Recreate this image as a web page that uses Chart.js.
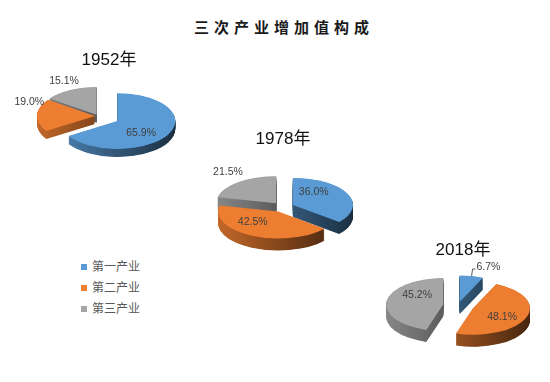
<!DOCTYPE html>
<html>
<head>
<meta charset="utf-8">
<script src="https://cdn.jsdelivr.net/npm/chart.js@4.4.1/dist/chart.umd.min.js"></script>
<style>
    html, body { margin: 0; padding: 0; background: #fff; }
    #wrap { position: relative; width: 550px; height: 382px; overflow: hidden; }
    #wrap canvas { position: absolute; left: 0; top: 0; }
    #title {
        position: absolute; left: 194px; top: 18px;
        font: bold 15px 'Noto Sans CJK SC'; line-height: 18px;
        letter-spacing: 5px; color: #1a1a1a; white-space: nowrap;
    }
    #legend { position: absolute; left: 81px; top: 257px; margin: 0; padding: 0; list-style: none; }
    #legend li { height: 21px; line-height: 21px; font: 12px 'Noto Sans CJK SC'; color: #595959; white-space: nowrap; }
    #legend span { display: inline-block; width: 6px; height: 6px; margin-right: 5px; vertical-align: 1px; }
</style>
</head>
<body>
<div id="wrap">
    <div id="title">三次产业增加值构成</div>
    <ul id="legend"></ul>
</div>
<script>
// ============= dados =============
const categories = ['第一产业', '第二产业', '第三产业']
const years = ['1952年', '1978年', '2018年']
const share1952 = [65.9, 19.0, 15.1]
const share1978 = [36.0, 42.5, 21.5]
const share2018 = [6.7, 48.1, 45.2]
const colors = ['#5B9BD5', '#ED7D31', '#A5A5A5']

// layout of each pie (center, radius, tilt, explode in px, label placement)
const pies = [
    { title: years[0], data: share1952, tx: 109, ty: 60, cx: 98, cy: 116, r: 58, tilt: 0.48, depth: 8,
      explode: [22, 3, 3], labelAngle: [136, 294, 335], labelDist: [0.59, 1.24, 1.33], leader: [false, false, false] },
    { title: years[1], data: share1978, tx: 283, ty: 139, cx: 283, cy: 207, r: 60, tilt: 0.45, depth: 12,
      explode: [11, 11, 11], labelAngle: [36, 227, 325], labelDist: [0.59, 0.58, 1.4], leader: [false, false, false] },
    { title: years[2], data: share2018, tx: 463, ty: 250, cx: 458, cy: 305.6, r: 57, tilt: 0.466, depth: 12,
      explode: [8, 16, 15], labelAngle: [21, 123, 308], labelDist: [1.41, 0.61, 0.58], leader: [true, false, false] }
]

function shade(hex, f) {
    const n = parseInt(hex.slice(1), 16)
    const r = Math.round(((n >> 16) & 255) * f)
    const g = Math.round(((n >> 8) & 255) * f)
    const b = Math.round((n & 255) * f)
    return `rgb(${r},${g},${b})`
}

// legend
const legend = document.getElementById('legend')
categories.forEach((c, i) => {
    const li = document.createElement('li')
    li.innerHTML = `<span style="background:${colors[i]}"></span>${c}`
    legend.appendChild(li)
})

function drawArc(ctx, arc, fill) {
    const o = arc.options
    arc.options = Object.assign({}, o, { backgroundColor: fill, borderWidth: 0, offset: 0 })
    arc.draw(ctx)
    arc.options = o
}

// fake 3D: squash the pie, pull slices out and stack darker copies under them
function pie3d(p) {
    return {
        id: 'pie3d',
        beforeDatasetsDraw(chart) {
            const ctx = chart.ctx
            const arcs = chart.getDatasetMeta(0).data
            const cx = arcs[0].x
            const cy = arcs[0].y
            const r = arcs[0].outerRadius
            ctx.save()
            ctx.translate(0, cy)
            ctx.scale(1, p.tilt)
            ctx.translate(0, -cy)
            const sides = arcs.map((arc, i) => {
                const g = ctx.createLinearGradient(cx - r, 0, cx + r, 0)
                g.addColorStop(0, shade(colors[i], 0.82))
                g.addColorStop(1, shade(colors[i], 0.3))
                return g
            })
            const pull = (arc, i) => {
                const mid = (arc.startAngle + arc.endAngle) / 2
                ctx.translate(Math.cos(mid) * p.explode[i], Math.sin(mid) * p.explode[i])
            }
            for (let d = p.depth; d > 0; d -= 0.5) {
                arcs.forEach((arc, i) => {
                    ctx.save()
                    ctx.translate(0, d / p.tilt)
                    pull(arc, i)
                    drawArc(ctx, arc, sides[i])
                    ctx.restore()
                })
            }
            arcs.forEach((arc, i) => {
                ctx.save()
                pull(arc, i)
                drawArc(ctx, arc, colors[i])
                ctx.restore()
            })
            ctx.restore()
            return false
        },
        afterDraw(chart) {
            const ctx = chart.ctx
            const arcs = chart.getDatasetMeta(0).data
            const values = chart.data.datasets[0].data
            ctx.save()
            ctx.font = '17px "Liberation Sans", "Noto Sans CJK SC"'
            ctx.fillStyle = '#111'
            ctx.textAlign = 'center'
            ctx.textBaseline = 'middle'
            ctx.fillText(p.title, p.tx, p.ty)

            ctx.font = '10.5px "Liberation Sans"'
            ctx.fillStyle = '#404040'
            arcs.forEach((arc, i) => {
                const mid = (arc.startAngle + arc.endAngle) / 2
                const ax = arc.x + Math.cos(mid) * p.explode[i]
                const ay = arc.y + Math.sin(mid) * p.explode[i] * p.tilt
                const a = p.labelAngle[i] * Math.PI / 180
                const rr = p.labelDist[i] * arc.outerRadius
                const lx = ax + Math.sin(a) * rr
                const ly = ay - Math.cos(a) * rr * p.tilt
                const text = values[i].toFixed(1) + '%'
                if (p.leader[i]) {
                    const ex = ax + Math.cos(mid) * arc.outerRadius
                    const ey = ay + Math.sin(mid) * arc.outerRadius * p.tilt
                    const w = ctx.measureText(text).width
                    ctx.strokeStyle = '#595959'
                    ctx.lineWidth = 1
                    ctx.beginPath()
                    ctx.moveTo(ex, ey)
                    ctx.lineTo(ex + 1, ly + 2)
                    ctx.lineTo(lx - w / 2 - 1, ly + 2)
                    ctx.stroke()
                }
                ctx.fillText(text, lx, ly)
            })
            ctx.restore()
        }
    }
}

const wrap = document.getElementById('wrap')
pies.forEach(p => {
    const canvas = document.createElement('canvas')
    canvas.width = 550
    canvas.height = 382
    wrap.appendChild(canvas)
    new Chart(canvas.getContext('2d'), {
        type: 'pie',
        data: {
            labels: categories,
            datasets: [{
                data: p.data,
                backgroundColor: colors,
                borderWidth: 0,
                radius: p.r,
                cutout: '0%',
                clip: false
            }]
        },
        options: {
            responsive: false,
            animation: false,
            events: [],
            layout: {
                padding: { left: p.cx - 60, right: 550 - p.cx - 60, top: p.cy - 60, bottom: 382 - p.cy - 60 }
            },
            plugins: {
                legend: { display: false },
                tooltip: { enabled: false },
                title: { display: false }
            }
        },
        plugins: [pie3d(p)]
    })
})
</script>
</body>
</html>
